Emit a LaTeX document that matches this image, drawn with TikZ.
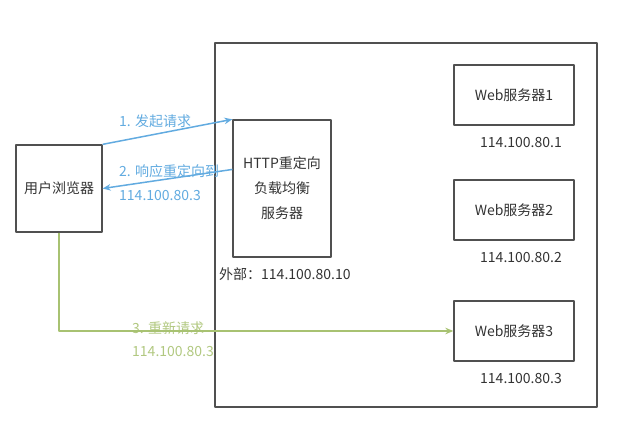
\documentclass[tikz,border=0pt]{standalone}
\usepackage{fontspec}
\setmainfont{Noto Sans CJK SC}
\usetikzlibrary{arrows.meta}
\definecolor{boxgray}{HTML}{505050}
\definecolor{txtgray}{HTML}{333333}
\definecolor{reqblue}{HTML}{62ABE0}
\definecolor{reqgreen}{HTML}{A8C272}
\tikzset{
  box/.style={draw=boxgray, line width=1.3pt, text=txtgray, inner sep=0pt},
  webbox/.style={box, minimum width=120, minimum height=60},
  iplabel/.style={text=txtgray, inner sep=0pt},
  bluelabel/.style={text=reqblue, inner sep=0pt, anchor=west},
  greenlabel/.style={text=reqgreen!90!white, inner sep=0pt, anchor=west},
  request/.style={->, line width=1.5pt},
}
\begin{document}
\begin{tikzpicture}[x=1pt, y=-1pt, font=\fontsize{14}{16}\selectfont, line join=round,
    >={Stealth[length=8pt, width=6.5pt]}]
    \useasboundingbox (0,0) rectangle (635,436);
    % machine room
    \node[box, minimum width=382, minimum height=364] (room) at (406,225) {};
    \node[box, minimum width=86, minimum height=87] (browser) at (59,188.5) {用户浏览器};
    \node[box, minimum width=98, minimum height=137, align=center,
          font=\fontsize{14}{25}\selectfont] (lb) at (282,188.5) {HTTP重定向\\负载均衡\\服务器};
    \node[iplabel, anchor=west] (lbip) at (219,274) {外部：114.100.80.10};
    \foreach \i/\y in {1/95,2/210,3/331}{
        \node[webbox] (web\i) at (514,\y) {Web服务器\i};
        \node[iplabel] (ip\i) at (521,\y+48) {114.100.80.\i};
    }
    % requests
    \node[bluelabel] (step1) at (119,121) {1. 发起请求};
    \node[bluelabel] (step2) at (119,171) {2. 响应重定向到};
    \node[bluelabel] (step2ip) at (119,196) {114.100.80.3};
    \node[greenlabel] (step3) at (132,328) {3. 重新请求};
    \node[greenlabel] (step3ip) at (132,352) {114.100.80.3};
    \draw[request, reqblue] (browser.north east) -- (lb.north west);
    \draw[request, reqblue] (lb.159) -- (browser.east);
    \draw[request, reqgreen] (browser.south) |- (web3.west);
\end{tikzpicture}
\end{document}
